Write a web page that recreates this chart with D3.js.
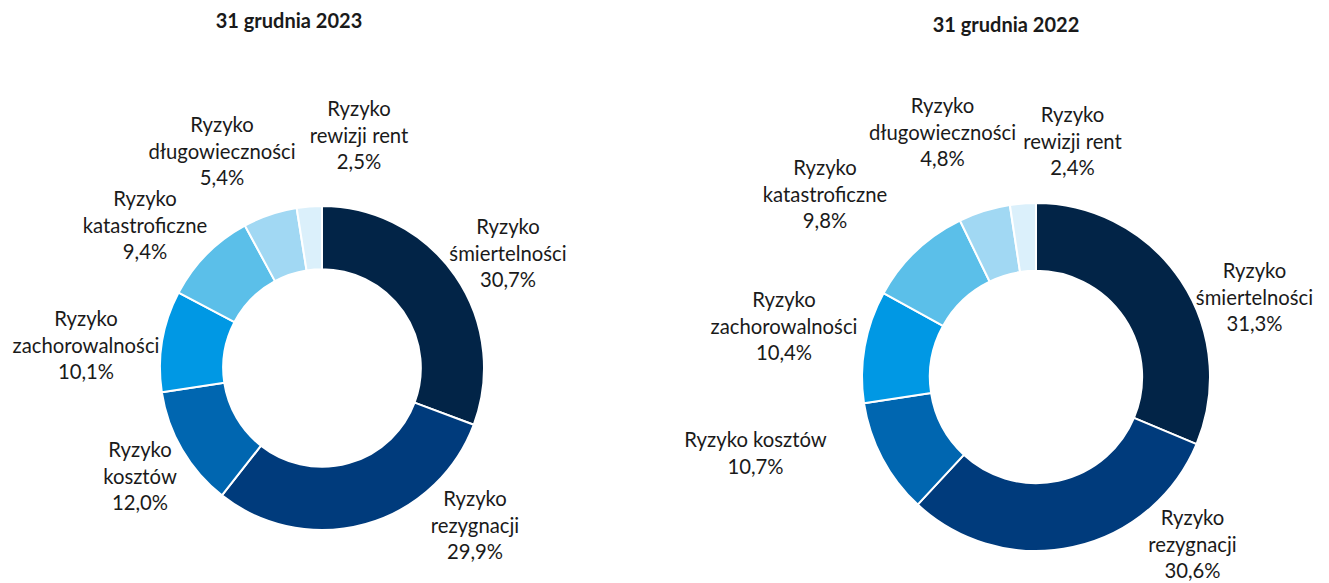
<!DOCTYPE html>
<html>
<head>
<meta charset="utf-8">
<script src="https://cdn.jsdelivr.net/npm/d3@7"></script>
<style>
  html, body { margin: 0; padding: 0; background: #fff; }
  svg { display: block; }
  text { font-family: Lato, "Open Sans", sans-serif; fill: #1a1a1a; }
</style>
</head>
<body>
<svg id="chart" width="1329" height="583"></svg>
<script>
// ---- Data ----
const categories = [
  "Ryzyko śmiertelności",
  "Ryzyko rezygnacji",
  "Ryzyko kosztów",
  "Ryzyko zachorowalności",
  "Ryzyko katastroficzne",
  "Ryzyko długowieczności",
  "Ryzyko rewizji rent"
];
const values2023 = [30.7, 29.9, 12.0, 10.1, 9.4, 5.4, 2.5];
const values2022 = [31.3, 30.6, 10.7, 10.4, 9.8, 4.8, 2.4];
const titles = ["31 grudnia 2023", "31 grudnia 2022"];
// label line breaks per chart
const labelLines2023 = [
  ["Ryzyko", "śmiertelności"],
  ["Ryzyko", "rezygnacji"],
  ["Ryzyko", "kosztów"],
  ["Ryzyko", "zachorowalności"],
  ["Ryzyko", "katastroficzne"],
  ["Ryzyko", "długowieczności"],
  ["Ryzyko", "rewizji rent"]
];
const labelLines2022 = [
  ["Ryzyko", "śmiertelności"],
  ["Ryzyko", "rezygnacji"],
  ["Ryzyko kosztów"],
  ["Ryzyko", "zachorowalności"],
  ["Ryzyko", "katastroficzne"],
  ["Ryzyko", "długowieczności"],
  ["Ryzyko", "rewizji rent"]
];

// ---- Styles / layout ----
const colors = ["#022447", "#003b7c", "#0066b0", "#0098e4", "#5bbfe9", "#a1d8f3", "#dbf0fb"];
const layouts = [
  { cx: 322, cy: 368, r: 162, titleX: 289, titleY: 28,
    labelOffsets: [[186,-134],[153,138],[-182,89],[-236,-42],[-177,-162],[-100,-236],[37,-252]] },
  { cx: 1036, cy: 377, r: 174, titleX: 1006, titleY: 32,
    labelOffsets: [[218.5,-99],[156.5,148],[-280.5,70],[-252,-70],[-211,-202],[-93.5,-264],[36.5,-255]] }
];
const lineH = 26.5;
const fontSize = 20.3;
const plLocale = d3.formatLocale({ decimal: ",", thousands: " ", grouping: [3], currency: ["", " zł"] });
const fmt = v => plLocale.format(".1f")(v) + "%";

const svg = d3.select("#chart");
const charts = [
  { values: values2023, lines: labelLines2023, title: titles[0], lay: layouts[0] },
  { values: values2022, lines: labelLines2022, title: titles[1], lay: layouts[1] }
];

const pie = d3.pie().sort(null).value(d => d);

charts.forEach(ch => {
  const L = ch.lay;
  const arc = d3.arc().innerRadius(L.r * 0.61).outerRadius(L.r);
  const g = svg.append("g").attr("transform", `translate(${L.cx},${L.cy})`);
  g.selectAll("path")
    .data(pie(ch.values))
    .join("path")
    .attr("d", arc)
    .attr("fill", (d, i) => colors[i])
    .attr("stroke", "#fff")
    .attr("stroke-width", 2)
    .attr("stroke-linejoin", "bevel");

  svg.append("text")
    .attr("x", L.titleX).attr("y", L.titleY)
    .attr("text-anchor", "middle")
    .style("font-weight", "bold")
    .style("font-size", "20px")
    .text(ch.title);

  ch.values.forEach((v, i) => {
    const [dx, dy] = L.labelOffsets[i];
    const lines = ch.lines[i].concat([fmt(v)]);
    const t = g.append("text")
      .attr("text-anchor", "middle")
      .style("font-size", fontSize + "px");
    lines.forEach((ln, k) => {
      t.append("tspan").attr("x", dx).attr("y", dy + k * lineH).text(ln);
    });
  });
});
</script>
</body>
</html>
